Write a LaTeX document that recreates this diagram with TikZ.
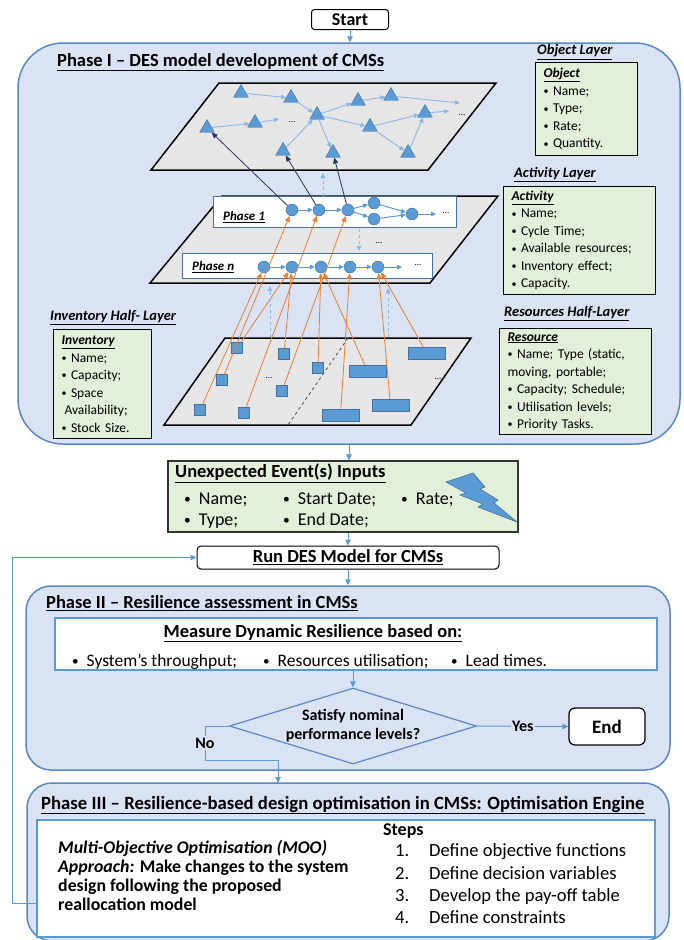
\documentclass[tikz,border=0pt]{standalone}
\usepackage{fontspec}
\setmainfont{Carlito}
\usetikzlibrary{shapes.geometric,arrows.meta}

\definecolor{phasebg}{HTML}{DAE3F3}
\definecolor{phaseedge}{HTML}{5A87C5}
\definecolor{notegreen}{HTML}{E2F0D9}
\definecolor{planegray}{HTML}{E7E6E6}
\definecolor{itemblue}{HTML}{5B9BD5}
\definecolor{itemedge}{HTML}{41719C}
\definecolor{linkblue}{HTML}{5B9BD5}
\definecolor{palelink}{HTML}{8AB8E6}
\definecolor{navylink}{HTML}{1F3864}
\definecolor{orangelink}{HTML}{ED7D31}

\newcommand{\itemdot}{\raisebox{0.6pt}{\scalebox{0.75}{\textbullet}}}

\tikzset{
  linktip/.style={-{Triangle[length=5pt,width=4.5pt]}},
  startbox/.style={draw=black, line width=1pt, fill=white, rounded corners=3pt, minimum width=77pt, minimum height=20pt, inner sep=0pt, font=\fontsize{18}{20}\selectfont\bfseries},
  phasebox/.style={draw=phaseedge, line width=1.5pt, fill=phasebg, rounded corners=#1, inner sep=0pt},
  phasetitle/.style={anchor=west, inner sep=0pt, font=\fontsize{18.5}{22}\selectfont\bfseries},
  layerlabel/.style={anchor=west, inner sep=0pt, font=\fontsize{14.5}{17}\selectfont\bfseries\itshape},
  notebox/.style={draw=black, line width=1pt, fill=notegreen, anchor=north west, align=left, inner xsep=8pt, inner ysep=2pt, font=\fontsize{13.5}{17.5}\selectfont},
  plane/.style={draw=black, line width=1.5pt, fill=planegray},
  divider/.style={draw=black!70, dashed, line width=0.8pt},
  objtri/.style={regular polygon, regular polygon sides=3, draw=itemedge, fill=itemblue, minimum size=17pt, inner sep=0pt},
  objlink/.style={draw=palelink, line width=0.9pt, linktip},
  phasestrip/.style={draw=itemedge, fill=white, line width=1pt, inner sep=0pt},
  phaselabel/.style={anchor=west, inner sep=0pt, font=\fontsize{13}{15}\selectfont\bfseries\itshape},
  actdot/.style={circle, draw=itemedge, fill=itemblue, minimum size=12pt, inner sep=0pt},
  actlink/.style={draw=linkblue, line width=1pt, linktip},
  navyarrow/.style={draw=navylink, line width=0.8pt, -{Triangle[length=6pt,width=5pt]}},
  invsq/.style={rectangle, draw=itemedge, fill=itemblue, minimum size=11pt, inner sep=0pt},
  resbar/.style={rectangle, draw=itemedge, fill=itemblue, minimum width=37pt, minimum height=12pt, inner sep=0pt},
  orangearrow/.style={draw=orangelink, line width=0.8pt, -{Triangle[length=6pt,width=5pt]}},
  dashlink/.style={draw=palelink, dashed, line width=1pt, linktip},
  morefig/.style={inner sep=0pt, font=\fontsize{9}{9}\selectfont},
  flow/.style={draw=linkblue, line width=1pt, -{Triangle[length=6pt,width=5.5pt]}},
  whitebox/.style={draw=linkblue, line width=1.2pt, fill=white, inner sep=0pt},
  eventbox/.style={draw=black!80, line width=1.2pt, fill=notegreen, inner sep=0pt},
  bodytext/.style={anchor=west, inner sep=0pt, text height=13pt, text depth=4pt, font=\fontsize{18}{22}\selectfont},
  runbox/.style={draw=black, line width=1pt, fill=white, rounded corners=4pt, inner sep=0pt, font=\fontsize{18.5}{22}\selectfont\bfseries},
  decision/.style={diamond, aspect=3.3, draw=phaseedge, line width=1.2pt, fill=phasebg, inner sep=0pt, align=center, font=\fontsize{16}{19}\selectfont\bfseries},
  endbox/.style={draw=black, line width=1.2pt, fill=white, rounded corners=6pt, inner sep=0pt, minimum width=76pt, minimum height=37pt, font=\fontsize{19}{22}\selectfont\bfseries},
  bolt/.style={draw=itemedge, fill=itemblue, line width=0.6pt},
  choice/.style={fill=phasebg, inner sep=1.5pt, font=\fontsize{16}{19}\selectfont\bfseries}
}

\begin{document}
\begin{tikzpicture}[x=1pt,y=-1pt]
  \useasboundingbox (0,0) rectangle (683,940);

  % start and phase I frame
  \node[startbox] (start) at (350,19.5) {Start};
  \node[phasebox=45pt, minimum width=662pt, minimum height=401pt] (ph1) at (349,243.5) {};
  \node[phasetitle] (ph1title) at (57,62) {\underline{Phase I – DES model development of CMSs}};
  \draw[flow] (start.south) -- (start.south |- ph1.north);

  % layer descriptions
  \node[layerlabel] (objlbl) at (537,52) {\underline{Object Layer}};
  \node[notebox, text width=86pt, minimum height=93pt] (objbox) at (535,62)
    {\underline{\textbf{\textit{Object}}}\\ \itemdot\ Name;\\ \itemdot\ Type;\\ \itemdot\ Rate;\\ \itemdot\ Quantity.};
  \node[layerlabel] (actlbl) at (514,175) {\underline{Activity Layer}};
  \node[notebox, text width=136pt, minimum height=108pt] (actbox) at (503,186)
    {\underline{\textbf{\textit{Activity}}}\\ \itemdot\ Name;\\ \itemdot\ Cycle Time;\\ \itemdot\ Available resources;\\ \itemdot\ Inventory effect;\\ \itemdot\ Capacity.};
  \node[layerlabel] (reslbl) at (504,314) {\underline{Resources Half-Layer}};
  \node[notebox, text width=136pt, minimum height=106pt] (resbox) at (499,328)
    {\underline{\textbf{\textit{Resource}}}\\ \itemdot\ Name; Type (static,\\ moving, portable;\\ \itemdot\ Capacity; Schedule;\\ \itemdot\ Utilisation levels;\\ \itemdot\ Priority Tasks.};
  \node[layerlabel] (invlbl) at (50,318) {\underline{Inventory Half- Layer}};
  \node[notebox, text width=82pt, minimum height=109pt] (invbox) at (53,329)
    {\underline{\textbf{\textit{Inventory}}}\\ \itemdot\ Name;\\ \itemdot\ Capacity;\\ \itemdot\ Space\\ \hspace*{3pt}Availability;\\ \itemdot\ Stock Size.};

  % planes
  \draw[plane] (219,83) -- (496,83) -- (428,170) -- (151,170) -- cycle;
  \draw[plane] (222,196) -- (498,196) -- (430,283) -- (150,283) -- cycle;
  \draw[plane] (225,338) -- (471,338) -- (411,425) -- (164,425) -- cycle;
  \draw[divider] (348,338) -- (288,425);

  % object layer
  \begin{scope}[every node/.style={objtri}]
    \node (tA) at (241,93)  {};
    \node (tB) at (291,98)  {};
    \node (tC) at (317,115) {};
    \node (tD) at (358,101) {};
    \node (tE) at (391,96)  {};
    \node (tF) at (207,128) {};
    \node (tG) at (255,123) {};
    \node (tH) at (370,127) {};
    \node (tI) at (425,113) {};
    \node (tJ) at (283,151) {};
    \node (tK) at (333,153) {};
    \node (tL) at (408,153) {};
  \end{scope}
  \coordinate (oE) at (460,103);
  \coordinate (oG) at (279,119);
  \coordinate (oI) at (449,111);
  \node[morefig] (dotsG) at (292,122) {...};
  \node[morefig] (dotsI) at (462,115) {...};

  \begin{scope}[every edge/.style={draw, objlink}]
    \path (tA) edge (tB);
    \path (tB) edge (tC);
    \path (tC) edge (tD);
    \path (tD) edge (tE);
    \path (tE) edge (oE);
    \path (tF) edge (tG);
    \path (tG) edge (oG);
    \path (tC) edge (tH);
    \path (tH) edge (tI);
    \path (tI) edge (oI);
    \path (tJ) edge (tC);
    \path (tC) edge (tK);
    \path (tH) edge (tL);
    \path (tL) edge (tI);
  \end{scope}

  % activity layer
  \node[phasestrip, minimum width=243pt, minimum height=31pt] (p1strip) at (334.5,212) {};
  \node[phaselabel] (p1lbl) at (223,217) {\underline{Phase 1}};
  \node[phasestrip, minimum width=250pt, minimum height=25pt] (pnstrip) at (307,265.5) {};
  \node[phaselabel] (pnlbl) at (192,267) {\underline{Phase n}};

  \begin{scope}[every node/.style={actdot}]
    \node (a1) at (292,210) {};
    \node (a2) at (319,210) {};
    \node (a3) at (348,210) {};
    \node (a4) at (374,203) {};
    \node (a5) at (374,219) {};
    \node (a6) at (412,214) {};
    \node (n1) at (264,267) {};
    \node (n2) at (292,267) {};
    \node (n3) at (321,267) {};
    \node (n4) at (350,267) {};
    \node (n5) at (378,267) {};
  \end{scope}
  \coordinate (a6end) at (436,214);
  \coordinate (n5end) at (402,267);
  \node[morefig] (dotsA) at (446,213) {...};
  \node[morefig] (dotsN) at (418,265) {...};
  \node[morefig] (dotsMid) at (379,243) {...};

  \begin{scope}[every edge/.style={draw, actlink}]
    \path (a1) edge (a2);
    \path (a2) edge (a3);
    \path (a3) edge (a4);
    \path (a3) edge (a5);
    \path (a4) edge (a6);
    \path (a5) edge (a6);
    \path (a6) edge (a6end);
    \path (n1) edge (n2);
    \path (n2) edge (n3);
    \path (n3) edge (n4);
    \path (n4) edge (n5);
    \path (n5) edge (n5end);
  \end{scope}

  \begin{scope}[every edge/.style={draw, navyarrow}]
    \path (a1) edge (tF);
    \path (a2) edge (tJ);
    \path (a3) edge (tK);
  \end{scope}

  % inventory and resources half-layers
  \begin{scope}[every node/.style={invsq}]
    \node (s1) at (237,348) {};
    \node (s2) at (284,354) {};
    \node (s3) at (318,368) {};
    \node (s4) at (222,380) {};
    \node (s5) at (282,391) {};
    \node (s6) at (200,410) {};
    \node (s7) at (244,413) {};
  \end{scope}
  \begin{scope}[every node/.style={resbar}]
    \node (r1) at (427,353.5)   {};
    \node (r2) at (367.5,371)   {};
    \node (r3) at (390.5,405.5) {};
    \node (r4) at (340.5,415.5) {};
  \end{scope}
  \node[morefig] (dotsS) at (269,378) {...};
  \node[morefig] (dotsR) at (438,379) {...};

  \begin{scope}[every edge/.style={draw, orangearrow}]
    \path (s6) edge (n1);
    \path (s4) edge (a1);
    \path (s1) edge (n2);
    \path (s7) edge (a2);
    \path (s2) edge (n2);
    \path (s5) edge (a3);
    \path (s3) edge (n3);
    \path (r2) edge (n3);
    \path (r4) edge (n4);
    \path (r3) edge (n5);
    \path (r1) edge (n5);
  \end{scope}

  \coordinate (up1a) at (323,196);
  \coordinate (up1b) at (323,173);
  \coordinate (dn1a) at (359,229);
  \coordinate (dn1b) at (359,251);
  \coordinate (inv1a) at (270,337);
  \coordinate (inv1b) at (270,286);
  \coordinate (inv2a) at (388,337);
  \coordinate (inv2b) at (388,288);
  \begin{scope}[every edge/.style={draw, dashlink}]
    \path (up1a) edge (up1b);
    \path (dn1a) edge (dn1b);
    \path (inv1a) edge (inv1b);
    \path (inv2a) edge (inv2b);
  \end{scope}

  % unexpected events
  \node[eventbox, minimum width=350pt, minimum height=71pt] (events) at (343,496.5) {};
  \node[phasetitle] (evtitle) at (175,473) {\underline{Unexpected Event(s) Inputs}};
  \node[bodytext] (ev1) at (184,500) {\itemdot\hspace{8pt}Name;};
  \node[bodytext] (ev2) at (184,521) {\itemdot\hspace{8pt}Type;};
  \node[bodytext] (ev3) at (283,500) {\itemdot\hspace{8pt}Start Date;};
  \node[bodytext] (ev4) at (283,521) {\itemdot\hspace{8pt}End Date;};
  \node[bodytext] (ev5) at (401,500) {\itemdot\hspace{8pt}Rate;};
  \draw[bolt] (446,482) -- (473,473) -- (485,487) -- (480,489) -- (498,500) -- (494,503)
    -- (517,522) -- (478,507) -- (483,504) -- (460,495) -- (466,493) -- cycle;
  \draw[flow] (ph1.south) -- (ph1.south |- events.north);

  \node[runbox, minimum width=302pt, minimum height=23pt] (run) at (348,557.5) {\underline{Run DES Model for CMSs}};
  \draw[flow] (run.north |- events.south) -- (run.north);

  % phase II
  \node[phasebox=25pt, minimum width=644pt, minimum height=184pt] (ph2) at (348,678) {};
  \draw[flow] (run.south) -- (run.south |- ph2.north);
  \node[phasetitle] (ph2title) at (46,603) {\underline{Phase II – Resilience assessment in CMSs}};
  \node[whitebox, minimum width=602pt, minimum height=52pt] (measure) at (356,644) {};
  \node[inner sep=0pt, font=\fontsize{18.5}{22}\selectfont\bfseries] (mtitle) at (313,633) {\underline{Measure Dynamic Resilience based on:}};
  \node[bodytext, font=\fontsize{17.5}{21}\selectfont] (m1) at (72,662) {\itemdot\hspace{8pt}System’s throughput;};
  \node[bodytext, font=\fontsize{17.5}{21}\selectfont] (m2) at (263,662) {\itemdot\hspace{8pt}Resources utilisation;};
  \node[bodytext, font=\fontsize{17.5}{21}\selectfont] (m3) at (451,662) {\itemdot\hspace{8pt}Lead times.};

  \node[decision, minimum width=247pt, minimum height=76pt] (dec) at (353,726) {Satisfy nominal\\performance levels?};
  \node[endbox] (endbox) at (607,726.5) {End};
  \draw[flow] (dec.north |- measure.south) -- (dec.north);
  \draw[flow] (dec.east) -- node[choice] {Yes} (endbox.west);

  % phase III
  \node[phasebox=25pt, minimum width=642pt, minimum height=158pt] (ph3) at (348,862) {};
  \coordinate (nocorner) at (205,760);
  \coordinate (nodrop) at (278,783);
  \draw[flow] (dec.west) -| node[pos=0.75, choice] {No} (nocorner) -| (nodrop);
  \node[phasetitle, font=\fontsize{18.7}{22}\selectfont\bfseries] (ph3title) at (41,805) {\underline{Phase III – Resilience-based design optimisation in CMSs: Optimisation Engine}};
  \node[whitebox, minimum width=618pt, minimum height=117pt] (moo) at (346,878.5) {};
  \node[anchor=west, align=left, inner sep=0pt, font=\fontsize{17.8}{19}\selectfont\bfseries] (mootext) at (58,875)
    {\textit{Multi-Objective Optimisation (MOO)}\\ \textit{Approach:} Make changes to the system\\ design following the proposed\\ reallocation model};
  \node[bodytext, font=\fontsize{18}{22}\selectfont\bfseries] (steps) at (383,831) {Steps};
  \node[bodytext, font=\fontsize{18.6}{22}\selectfont] (st1) at (395,852) {\makebox[34pt][l]{1.}Define objective functions};
  \node[bodytext, font=\fontsize{18.6}{22}\selectfont] (st2) at (395,875) {\makebox[34pt][l]{2.}Define decision variables};
  \node[bodytext, font=\fontsize{18.6}{22}\selectfont] (st3) at (395,897) {\makebox[34pt][l]{3.}Develop the pay-off table};
  \node[bodytext, font=\fontsize{18.6}{22}\selectfont] (st4) at (395,919) {\makebox[34pt][l]{4.}Define constraints};

  % loop back to the model run
  \coordinate (loopout) at (37,903);
  \coordinate (loopturn) at (12,557.5);
  \draw[flow] (loopout) -| (loopturn) -- (run.west);

\end{tikzpicture}
\end{document}
